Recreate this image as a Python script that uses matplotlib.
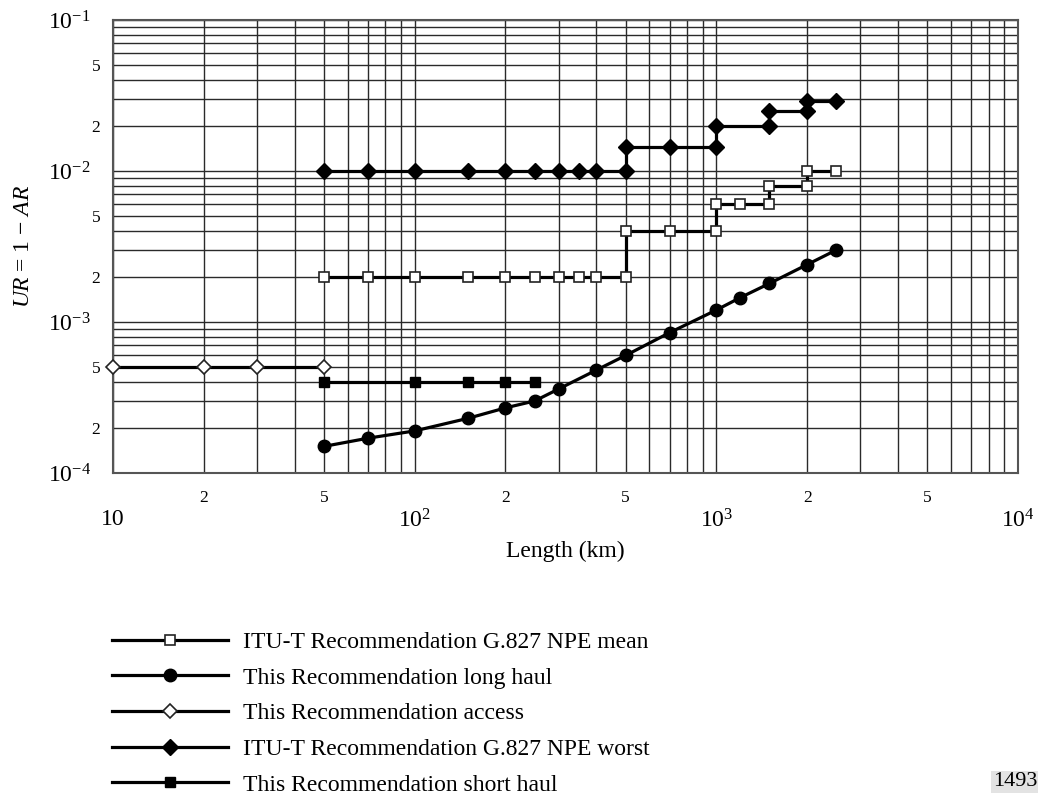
import matplotlib
matplotlib.use('Agg')
import matplotlib.pyplot as plt
import matplotlib.ticker as mticker
import numpy as np

plt.rcParams['font.family'] = 'Liberation Serif'
plt.rcParams['mathtext.fontset'] = 'custom'
plt.rcParams['mathtext.rm'] = 'Liberation Serif'
plt.rcParams['mathtext.it'] = 'Liberation Serif:italic'

# %% data
mean_len = [50, 70, 100, 150, 200, 250, 300, 350, 400, 500,
            500, 700, 1000, 1000, 1200, 1500, 1500, 2000, 2000, 2500]
mean_ur = [2e-3, 2e-3, 2e-3, 2e-3, 2e-3, 2e-3, 2e-3, 2e-3, 2e-3, 2e-3,
           4e-3, 4e-3, 4e-3, 6e-3, 6e-3, 6e-3, 8e-3, 8e-3, 1e-2, 1e-2]

long_len = [50, 70, 100, 150, 200, 250, 300, 400, 500, 700,
            1000, 1200, 1500, 2000, 2500]
long_ur = [1.5e-4, 1.7e-4, 1.9e-4, 2.3e-4, 2.7e-4, 3.0e-4, 3.6e-4, 4.8e-4,
           6.0e-4, 8.5e-4, 1.2e-3, 1.45e-3, 1.8e-3, 2.4e-3, 3.0e-3]

access_len = [10, 20, 30, 50]
access_ur = [5e-4, 5e-4, 5e-4, 5e-4]

worst_len = [50, 70, 100, 150, 200, 250, 300, 350, 400, 500,
             500, 700, 1000, 1000, 1500, 1500, 2000, 2000, 2500]
worst_ur = [1e-2, 1e-2, 1e-2, 1e-2, 1e-2, 1e-2, 1e-2, 1e-2, 1e-2, 1e-2,
            1.45e-2, 1.45e-2, 1.45e-2, 2e-2, 2e-2, 2.5e-2, 2.5e-2,
            2.9e-2, 2.9e-2]

short_len = [50, 100, 150, 200, 250]
short_ur = [4e-4, 4e-4, 4e-4, 4e-4, 4e-4]

labels = ['ITU-T Recommendation G.827 NPE mean',
          'This Recommendation long haul',
          'This Recommendation access',
          'ITU-T Recommendation G.827 NPE worst',
          'This Recommendation short haul']

# %%
my_dpi = 100
fig = plt.figure(figsize=(1045/my_dpi, 794/my_dpi), dpi=my_dpi)
ax = fig.add_axes([113/1045, 1 - 473/794, (1018-113)/1045, (473-20)/794])
ax.set_xscale('log')
ax.set_yscale('log')
ax.set_xlim(10, 1e4)
ax.set_ylim(1e-4, 1e-1)

lw = 2.3
h1, = ax.plot(mean_len, mean_ur, color='black', lw=lw, marker='s', ms=7.5,
              mfc='white', mec='#222222', mew=1.2, zorder=5)
h2, = ax.plot(long_len, long_ur, color='black', lw=lw, marker='o', ms=9,
              mfc='black', mec='black', zorder=5)
h3, = ax.plot(access_len, access_ur, color='black', lw=lw, marker='D', ms=7.5,
              mfc='white', mec='#222222', mew=1.2, zorder=5, clip_on=False)
h4, = ax.plot(worst_len, worst_ur, color='black', lw=lw, marker='D', ms=8,
              mfc='black', mec='black', zorder=5)
h5, = ax.plot(short_len, short_ur, color='black', lw=lw, marker='s', ms=7.5,
              mfc='black', mec='black', zorder=5)

# grid: every 1..9 in each decade
minor = np.array([2, 3, 4, 5, 6, 7, 8, 9])
ax.xaxis.set_major_locator(mticker.FixedLocator([10, 100, 1000, 10000]))
ax.xaxis.set_minor_locator(mticker.FixedLocator(
    np.concatenate([minor * 10, minor * 100, minor * 1000])))
ax.yaxis.set_major_locator(mticker.FixedLocator([1e-4, 1e-3, 1e-2, 1e-1]))
ax.yaxis.set_minor_locator(mticker.FixedLocator(
    np.concatenate([minor * 1e-4, minor * 1e-3, minor * 1e-2])))

ax.set_xticklabels(['10', r'$10^2$', r'$10^3$', r'$10^4$'])
ax.set_yticklabels([r'$10^{-4}$', r'$10^{-3}$', r'$10^{-2}$', r'$10^{-1}$'])


def minor_fmt(v, pos):
    m = round(v / 10 ** np.floor(np.log10(v) + 1e-9))
    return str(m) if m in (2, 5) else ''


ax.xaxis.set_minor_formatter(mticker.FuncFormatter(minor_fmt))
ax.yaxis.set_minor_formatter(mticker.FuncFormatter(minor_fmt))

ax.tick_params(which='both', length=0)
ax.tick_params(axis='x', which='major', pad=26, labelsize=17)
ax.tick_params(axis='x', which='minor', pad=12, labelsize=12.5)
ax.tick_params(axis='y', which='major', pad=16, labelsize=17)
ax.tick_params(axis='y', which='minor', pad=9, labelsize=12.5)

ax.grid(True, which='both', color='#2a2a2a', lw=1.0)
ax.set_axisbelow(True)
for s in ax.spines.values():
    s.set_color('#555555')
    s.set_linewidth(1.5)

ax.set_xlabel('Length (km)', fontsize=17, labelpad=6)
ax.set_ylabel(r'$\mathit{UR}$ = 1 $-$ $\mathit{AR}$', fontsize=17, labelpad=10)

fig.legend([h1, h2, h3, h4, h5], labels, loc='upper left',
           bbox_to_anchor=(103/1045, 1 - 622/794), frameon=False,
           fontsize=17, numpoints=1, handlelength=4.9, handletextpad=0.64,
           labelspacing=0.6, borderaxespad=0)

fig.text(1037/1045, 1 - 782/794, '1493', fontsize=16, ha='right', va='center',
         bbox=dict(facecolor='#e3e3e3', edgecolor='none', pad=1))

fig.savefig('out.png', dpi=my_dpi)
